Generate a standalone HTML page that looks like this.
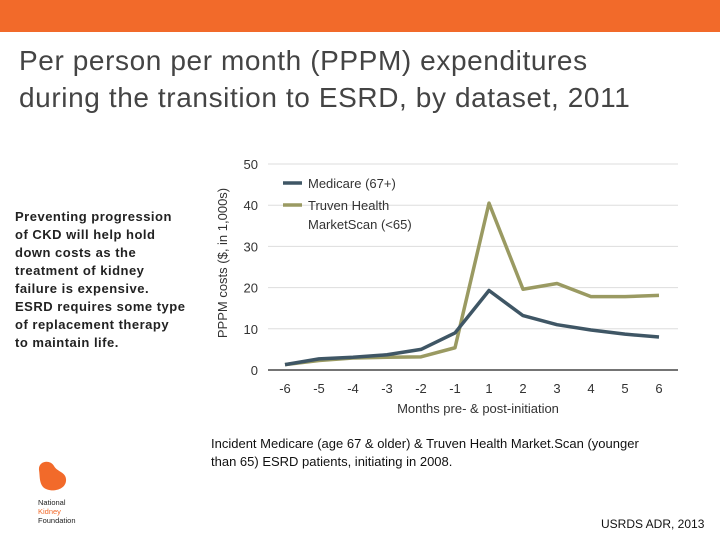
<!DOCTYPE html>
<html><head><meta charset="utf-8"><style>
body{margin:0;width:720px;height:540px;background:#fff;position:relative;overflow:hidden;font-family:"Liberation Sans",sans-serif}
.bar{position:absolute;left:0;top:0;width:720px;height:32px;background:#f26a2a}
.title{position:absolute;left:19px;top:42px;font-size:28px;line-height:37px;color:#444;letter-spacing:0.6px}
.side{position:absolute;left:15px;top:208px;width:180px;font-size:13px;line-height:18px;color:#222;letter-spacing:0.5px;font-weight:bold}
.note{position:absolute;left:211px;top:435px;width:465px;font-size:13px;line-height:18px;color:#111}
.src{position:absolute;left:601px;top:517px;font-size:12px;color:#111}
</style></head><body>
<div class="bar"></div>
<div class="title">Per person per month (PPPM) expenditures<br>during the transition to ESRD, by dataset, 2011</div>
<div class="side">Preventing progression<br>of CKD will help hold<br>down costs as the<br>treatment of kidney<br>failure is expensive.<br>ESRD requires some type<br>of replacement therapy<br>to maintain life.</div>
<div class="note">Incident Medicare (age 67 &amp; older) &amp; Truven Health Market.Scan (younger<br>than 65) ESRD patients, initiating in 2008.</div>
<div class="src">USRDS ADR, 2013</div>
<svg style="position:absolute;left:36px;top:460px" width="60" height="70">
<path d="M3,10 C2,1 14,-1 18,6 C21,12 31,12 30,21 C29,31 13,33 7,27 C3,22 4,16 3,10Z" fill="#f26a2a"/>
<text x="2" y="45" font-size="7.5" fill="#222">National</text>
<text x="2" y="54" font-size="7.5" fill="#f26a2a">Kidney</text>
<text x="2" y="63" font-size="7.5" fill="#222">Foundation</text>
</svg>
<svg id="chart" style="position:absolute;left:0;top:0" width="720" height="540"></svg>
<script>
const categories=["-6","-5","-4","-3","-2","-1","1","2","3","4","5","6"];
const medicare=[1.3,2.7,3.1,3.7,5,9,19.3,13.2,11,9.7,8.7,8];
const truven=[1.3,2.3,2.9,3.1,3.2,5.4,40.5,19.6,21,17.8,17.8,18.1];
const yTicks=[0,10,20,30,40,50];
const NS="http://www.w3.org/2000/svg";
const svg=document.getElementById('chart');
const x=i=>285+i*34;
const y=v=>370-v*4.12;
function el(t,a,txt){const e=document.createElementNS(NS,t);for(const k in a)e.setAttribute(k,a[k]);if(txt!=null)e.textContent=txt;svg.appendChild(e);return e;}
yTicks.forEach(v=>{
 const g=el('line',{x1:268,x2:678,y1:y(v),y2:y(v),stroke:v===0?'#222':'#ddd','stroke-width':v===0?1.2:1});
 
 
 const t=el('text',{x:258,y:y(v)+5,'text-anchor':'end','font-size':13,fill:'#333'},v);
 
 
});
categories.forEach((c,i)=>{
 const t=el('text',{x:x(i),y:393,'text-anchor':'middle','font-size':13,fill:'#333'},c);
 
 
});
const xt=el('text',{x:478,y:413,'text-anchor':'middle','font-size':13,fill:'#333'},'Months pre- & post-initiation');


const yt=el('text',{x:0,y:0,'text-anchor':'middle','font-size':13,fill:'#333',transform:'translate(227,263) rotate(-90)'},'PPPM costs ($, in 1,000s)');


function series(d,col,name){
 const p=el('polyline',{points:d.map((v,i)=>x(i)+','+y(v)).join(' '),fill:'none',stroke:col,'stroke-width':3.5,'stroke-linejoin':'round'});
 
 
}
series(truven,'#9a9a62','truven-line');
series(medicare,'#3f5665','medicare-line');
const l1=el('line',{x1:283,x2:302,y1:183,y2:183,stroke:'#3f5665','stroke-width':3.5});


const t1=el('text',{x:308,y:188,'font-size':13,fill:'#333'},'Medicare (67+)');


const l2=el('line',{x1:283,x2:302,y1:205,y2:205,stroke:'#9a9a62','stroke-width':3.5});


const t2=el('text',{x:308,y:210,'font-size':13,fill:'#333'},'Truven Health');


const t3=el('text',{x:308,y:229,'font-size':13,fill:'#333'},'MarketScan (<65)');


</script>
</body></html>
